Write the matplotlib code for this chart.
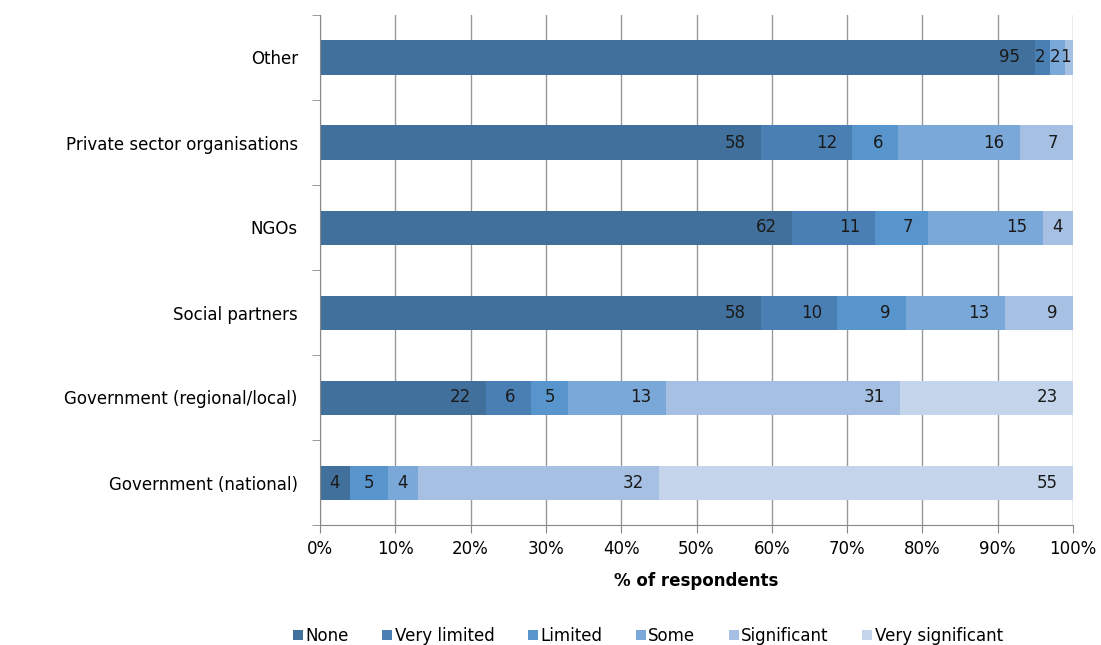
import numpy as np
import matplotlib.pyplot as plt
from matplotlib.patches import Patch

categories = ["Government (national)", "Government (regional/local)", "Social partners",
              "NGOs", "Private sector organisations", "Other"]
series = ["None", "Very limited", "Limited", "Some", "Significant", "Very significant"]

none_v = [4, 22, 58, 62, 58, 95]
very_limited = [0, 6, 10, 11, 12, 2]
limited = [5, 5, 9, 7, 6, 0]
some = [4, 13, 13, 15, 16, 2]
significant = [32, 31, 9, 4, 7, 1]
very_significant = [55, 23, 0, 0, 0, 0]

colors = ["#42709c", "#4a7fb4", "#5795cc", "#7aa8d9", "#a5c0e2", "#c4d5eb"]

data = np.array([none_v, very_limited, limited, some, significant, very_significant], dtype=float)
share = data / data.sum(axis=0) * 100

fs = 12
fig = plt.figure(figsize=(11.01, 6.45), dpi=100)
ax = fig.add_axes([320 / 1101, 1 - 525 / 645, 753 / 1101, 510 / 645])

y = np.arange(len(categories))
left = np.zeros(len(categories))
for i, name in enumerate(series):
    ax.barh(y, share[i], left=left, height=0.4, color=colors[i], zorder=2)
    for j in range(len(categories)):
        if data[i, j] > 0:
            # labels sit at the inside end of each segment
            pad = min(2.0, 0.35 * share[i, j])
            ax.text(left[j] + share[i, j] - pad, y[j], f"{int(data[i, j])}",
                    ha="right", va="center", fontsize=fs, color="#1a1a1a", zorder=3)
    left += share[i]

ax.set_xlim(0, 100)
ax.set_ylim(-0.5, len(categories) - 0.5)
ax.set_xticks(np.arange(0, 101, 10))
ax.set_xticklabels([f"{t}%" for t in range(0, 101, 10)], fontsize=fs)
ax.set_yticks(y)
ax.set_yticklabels(categories, fontsize=fs)
ax.set_yticks(np.arange(-0.5, len(categories), 1), minor=True)
ax.tick_params(axis="y", which="major", length=0, pad=16)
ax.tick_params(axis="y", which="minor", length=6, color="#888888")
ax.tick_params(axis="x", length=6, color="#888888", pad=5)
ax.grid(axis="x", color="#999999", linewidth=1, zorder=0)
for s in ["top", "right"]:
    ax.spines[s].set_visible(False)
for s in ["left", "bottom"]:
    ax.spines[s].set_color("#888888")
ax.set_xlabel("% of respondents", fontsize=fs, fontweight="bold", labelpad=10)

handles = [Patch(facecolor=c, label=n) for c, n in zip(colors, series)]
fig.legend(handles=handles, loc="center", bbox_to_anchor=(648 / 1101, 1 - 636 / 645),
           ncol=6, frameon=False, fontsize=fs, handlelength=0.6, handleheight=0.6,
           handletextpad=0.15, columnspacing=2.0)

fig.savefig("out.png", dpi=100)
